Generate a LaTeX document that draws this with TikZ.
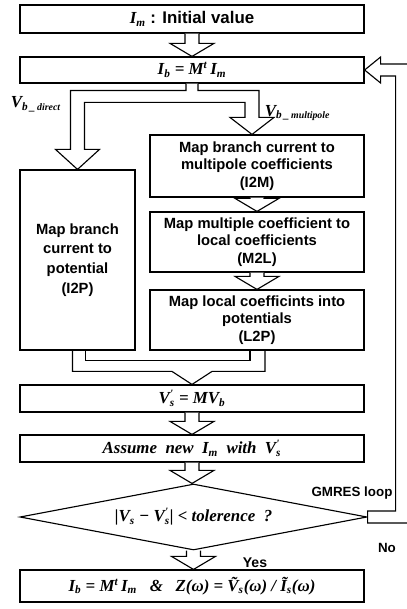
\documentclass[tikz,border=0pt]{standalone}
\usepackage{fontspec}
\setmainfont{Liberation Sans}
\newfontfamily\tms{Liberation Serif}
\usetikzlibrary{calc,shapes.geometric}

\newcommand{\fml}[1]{{\tms\bfseries\itshape #1}}
\newcommand{\sbp}{\rlap{\textsuperscript{'}}\textsubscript{s}}

% hollow arrow straight down from one node to the next
\newcommand{\hollowdown}[2]{%
	\draw[hollow] let \p1=(#1.south), \p2=(#2.north) in
	(\x1-5pt,\y1) -- (\x1-5pt,\y2+9.25pt) -- (\x1-15.6pt,\y2+9.25pt) -- (\x1,\y2)
	-- (\x1+15.6pt,\y2+9.25pt) -- (\x1+5pt,\y2+9.25pt) -- (\x1+5pt,\y1);}

\tikzset{
	box/.style={draw, line width=0.8pt, inner sep=1pt, minimum width=8.6cm, align=center, font=\fontsize{10.5}{12.5}\selectfont\bfseries},
	fmbox/.style={box, font=\fontsize{12}{14}\selectfont},
	hollow/.style={draw, line width=0.8pt, fill=white, line join=miter},
	lbl/.style={font=\fontsize{9.5}{11}\selectfont\bfseries}
}

\begin{document}
\begin{tikzpicture}[x=0.025cm,y=-0.025cm]
	\useasboundingbox (0,0) rectangle (406,609);
	
	% start and update of branch current
	\node[fmbox, minimum height=0.7cm] (init) at (192,19) {\fml{I\textsubscript{m}}\bfseries\ : Initial value};
	\node[fmbox, minimum height=0.65cm] (upd) at (192,70) {\fml{I\textsubscript{b} = M\textsuperscript{t}\,I\textsubscript{m}}};
	\hollowdown{init}{upd}
	
	% direct part
	\node[box, minimum width=2.875cm, minimum height=4.5cm, font=\fontsize{10.5}{14}\selectfont\bfseries] (i2p) at (77.5,260) {Map branch\\current to\\potential\\(I2P)};
	
	% multipole part
	\node[box, minimum width=5.35cm, minimum height=1.55cm] (i2m) at (257,166) {Map branch current to\\multipole coefficients\\(I2M)};
	\node[box, minimum width=5.35cm, minimum height=1.5cm] (m2l) at (257,242) {Map multiple coefficient to\\local coefficients\\(M2L)};
	\node[box, minimum width=5.35cm, minimum height=1.5cm] (l2p) at (257,320) {Map local coefficints into\\potentials\\(L2P)};
	\hollowdown{i2m}{m2l}
	\hollowdown{m2l}{l2p}
	
	% split of V_b
	\draw[hollow] ($(upd.south)+(-6,0)$) -- ++(0,7) -| ($(i2p.north)+(-7,-20)$) -- ++(-15,0) -- (i2p.north) -- ++(22,-20) -- ++(-15,0)
	|- ($(i2m.north)+(-12,-32)$) -- ++(0,15) -- ++(-15,0) -- ($(i2m.north)+(-5,0)$) -- ++(22,-17) -- ++(-15,0)
	|- ($(upd.south)+(6,7)$) -- ++(0,-7);
	\node[anchor=west, font=\fontsize{12}{14}\selectfont] at (6,104) {\fml{V}\textsubscript{\fml{b\,\_\,{\scriptsize direct}}}};
	\node[anchor=west, font=\fontsize{12}{14}\selectfont] at (260,113) {\fml{V}\textsubscript{\fml{b\,\_\,{\scriptsize multipole}}}};
	
	% potentials
	\node[fmbox, minimum height=0.675cm] (vs) at (192,398.5) {\fml{V\sbp\ = MV\textsubscript{b}}};
	\draw[line width=0.8pt] ($(i2p.south)+(-5,0)$) |- ($(vs.north)+(-20,-13)$) -- (vs.north) -- ++(20,-13) -| ($(l2p.south)+(8,0)$);
	\draw[line width=0.8pt] ($(i2p.south)+(8,0)$) |- ($(l2p.south)+(-7,10)$) -- ++(0,-10);
	
	\node[fmbox, minimum height=0.675cm] (asm) at (192,448.5) {\fml{Assume~~new~~I\textsubscript{m}~~with~~V\sbp}};
	\hollowdown{vs}{asm}
	
	% GMRES check
	\node[diamond, draw, line width=0.8pt, inner sep=0pt, aspect=5.26, minimum width=8.675cm, minimum height=1.65cm, font=\fontsize{12}{14}\selectfont] (gm) at (193.5,517) {\fml{|V\textsubscript{s} − V\sbp| < tolerence ~?}};
	\hollowdown{asm}{gm}
	\draw[hollow] ($(gm.east)+(0,6)$) -| ($(upd.east)+(44,-6)$) -- ++(-28,0) -- ++(0,-7) -- (upd.east) -- ++(16,13) -- ++(0,-7)
	-| ($(gm.east)+(28,-6)$) -- ++(-28,0) -- cycle;
	\node[lbl] at (352,493) {GMRES loop};
	\node[lbl] at (387,548) {No};
	
	% result
	\node[fmbox, minimum height=0.8cm] (fin) at (192,586) {\fml{I\textsubscript{b} = M\textsuperscript{t}\,I\textsubscript{m}~~~\&~~~Z(ω) = \~{V}\textsubscript{s}(ω) / \~{I}\textsubscript{s}(ω)}};
	\hollowdown{gm}{fin}
	\node[lbl, font=\fontsize{10}{12}\selectfont\bfseries] at (255,563) {Yes};
	
\end{tikzpicture}
\end{document}
